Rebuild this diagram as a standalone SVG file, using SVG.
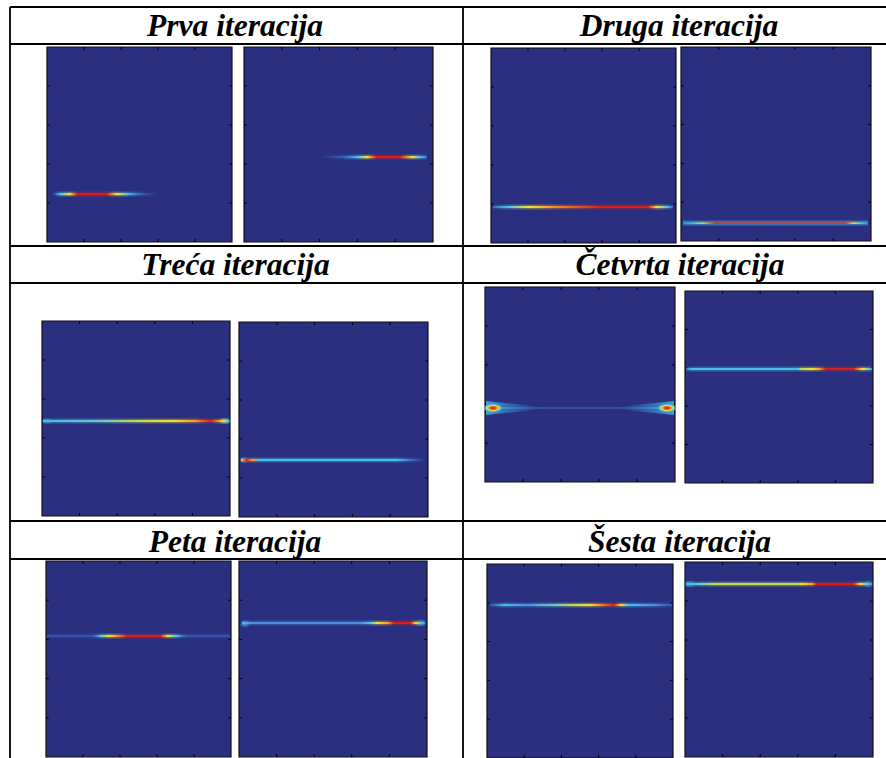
<svg xmlns="http://www.w3.org/2000/svg" xmlns:xlink="http://www.w3.org/1999/xlink" width="886" height="758" viewBox="0 0 886 758">
<style>
.tl{stroke:#000;stroke-width:1.8;fill:none}
.h{font-family:"Liberation Serif","Times New Roman",serif;font-weight:bold;font-style:italic;font-size:31.5px;text-anchor:middle;fill:#000}
.halo{opacity:0.35}
.st{filter:url(#bl)}
</style>
<defs>
<filter id="bl" x="-5%" y="-300%" width="110%" height="700%"><feGaussianBlur stdDeviation="0.6"/></filter>
<symbol id="ax" viewBox="0 0 100 100" preserveAspectRatio="none" overflow="visible">
<rect width="100" height="100" fill="#2b2f80" stroke="#111" stroke-width="1.2" vector-effect="non-scaling-stroke"/>
<path d="M20,0v1.5M40,0v1.5M60,0v1.5M80,0v1.5M20,100v-1.5M40,100v-1.5M60,100v-1.5M80,100v-1.5M0,20h1.5M0,40h1.5M0,60h1.5M0,80h1.5M100,20h-1.5M100,40h-1.5M100,60h-1.5M100,80h-1.5" stroke="#000" stroke-width="1" fill="none" vector-effect="non-scaling-stroke"/>
</symbol>
<linearGradient id="ga1"><stop offset="0" stop-color="#3a7fd0" stop-opacity="0"/><stop offset="0.076" stop-color="#45c0ec"/><stop offset="0.17" stop-color="#f0e52a"/><stop offset="0.24" stop-color="#d61e1e"/><stop offset="0.52" stop-color="#d61e1e"/><stop offset="0.62" stop-color="#f0e52a"/><stop offset="0.72" stop-color="#45c0ec"/><stop offset="0.85" stop-color="#3a7fd0" stop-opacity="0.5"/><stop offset="1" stop-color="#3a7fd0" stop-opacity="0"/></linearGradient>
<linearGradient id="ga2"><stop offset="0" stop-color="#3a7fd0" stop-opacity="0"/><stop offset="0.2" stop-color="#3a7fd0" stop-opacity="0.5"/><stop offset="0.34" stop-color="#45c0ec"/><stop offset="0.43" stop-color="#f0e52a"/><stop offset="0.52" stop-color="#d61e1e"/><stop offset="0.74" stop-color="#d61e1e"/><stop offset="0.86" stop-color="#f0e52a"/><stop offset="0.93" stop-color="#45c0ec"/><stop offset="1" stop-color="#45c0ec" stop-opacity="0.4"/></linearGradient>
<linearGradient id="gb1"><stop offset="0" stop-color="#45c0ec" stop-opacity="0.3"/><stop offset="0.08" stop-color="#45c0ec"/><stop offset="0.2" stop-color="#f0e52a"/><stop offset="0.32" stop-color="#f59a20"/><stop offset="0.6" stop-color="#d61e1e"/><stop offset="0.86" stop-color="#d61e1e"/><stop offset="0.91" stop-color="#f0e52a"/><stop offset="0.97" stop-color="#45c0ec"/><stop offset="1" stop-color="#45c0ec" stop-opacity="0.3"/></linearGradient>
<linearGradient id="gb2"><stop offset="0" stop-color="#45c0ec" stop-opacity="0.3"/><stop offset="0.05" stop-color="#45c0ec"/><stop offset="0.11" stop-color="#c0e050"/><stop offset="0.17" stop-color="#d63a2a"/><stop offset="0.88" stop-color="#d63a2a"/><stop offset="0.92" stop-color="#f0e52a"/><stop offset="0.97" stop-color="#45c0ec"/><stop offset="1" stop-color="#45c0ec" stop-opacity="0.3"/></linearGradient>
<linearGradient id="gc1"><stop offset="0" stop-color="#45c0ec"/><stop offset="0.05" stop-color="#45c0ec"/><stop offset="0.3" stop-color="#60ccc8"/><stop offset="0.5" stop-color="#b8de58"/><stop offset="0.7" stop-color="#f0e52a"/><stop offset="0.82" stop-color="#f59a20"/><stop offset="0.9" stop-color="#d61e1e"/><stop offset="0.97" stop-color="#f0e52a"/><stop offset="1" stop-color="#45c0ec"/></linearGradient>
<linearGradient id="gc2"><stop offset="0" stop-color="#f0e52a"/><stop offset="0.03" stop-color="#d61e1e"/><stop offset="0.06" stop-color="#f59a20"/><stop offset="0.1" stop-color="#45c0ec"/><stop offset="0.85" stop-color="#45c0ec"/><stop offset="0.95" stop-color="#3a7fd0" stop-opacity="0.5"/><stop offset="1" stop-color="#3a7fd0" stop-opacity="0"/></linearGradient>
<linearGradient id="gd1"><stop offset="0" stop-color="#45c0ec"/><stop offset="0.2" stop-color="#3a7fd0" stop-opacity="0.6"/><stop offset="0.8" stop-color="#3a7fd0" stop-opacity="0.6"/><stop offset="1" stop-color="#45c0ec"/></linearGradient>
<linearGradient id="gd2"><stop offset="0" stop-color="#45c0ec" stop-opacity="0.4"/><stop offset="0.03" stop-color="#45c0ec"/><stop offset="0.6" stop-color="#45c0ec"/><stop offset="0.62" stop-color="#b8de58"/><stop offset="0.68" stop-color="#f0e52a"/><stop offset="0.72" stop-color="#f59a20"/><stop offset="0.75" stop-color="#d61e1e"/><stop offset="0.9" stop-color="#d61e1e"/><stop offset="0.95" stop-color="#f0e52a"/><stop offset="0.99" stop-color="#45c0ec"/><stop offset="1" stop-color="#45c0ec" stop-opacity="0.4"/></linearGradient>
<linearGradient id="ge1"><stop offset="0" stop-color="#3a7fd0" stop-opacity="0.4"/><stop offset="0.25" stop-color="#3a7fd0" stop-opacity="0.4"/><stop offset="0.29" stop-color="#45c0ec"/><stop offset="0.34" stop-color="#f0e52a"/><stop offset="0.38" stop-color="#f59a20"/><stop offset="0.44" stop-color="#d61e1e"/><stop offset="0.62" stop-color="#d61e1e"/><stop offset="0.66" stop-color="#f0e52a"/><stop offset="0.71" stop-color="#45c0ec"/><stop offset="0.76" stop-color="#3a7fd0" stop-opacity="0.4"/><stop offset="1" stop-color="#3a7fd0" stop-opacity="0.4"/></linearGradient>
<linearGradient id="ge2"><stop offset="0" stop-color="#45c0ec"/><stop offset="0.05" stop-color="#4a90dc"/><stop offset="0.65" stop-color="#4a90dc"/><stop offset="0.7" stop-color="#45c0ec"/><stop offset="0.74" stop-color="#f0e52a"/><stop offset="0.8" stop-color="#f59a20"/><stop offset="0.83" stop-color="#d61e1e"/><stop offset="0.92" stop-color="#d61e1e"/><stop offset="0.95" stop-color="#f0e52a"/><stop offset="0.98" stop-color="#45c0ec"/><stop offset="1" stop-color="#45c0ec" stop-opacity="0.5"/></linearGradient>
<linearGradient id="gf1"><stop offset="0" stop-color="#3a7fd0" stop-opacity="0.4"/><stop offset="0.08" stop-color="#45c0ec"/><stop offset="0.2" stop-color="#4a90dc"/><stop offset="0.35" stop-color="#60ccc8"/><stop offset="0.45" stop-color="#b8de58"/><stop offset="0.55" stop-color="#f0e52a"/><stop offset="0.6" stop-color="#f59a20"/><stop offset="0.68" stop-color="#d61e1e"/><stop offset="0.72" stop-color="#f0e52a"/><stop offset="0.76" stop-color="#45c0ec"/><stop offset="0.9" stop-color="#4a90dc"/><stop offset="1" stop-color="#3a7fd0" stop-opacity="0.4"/></linearGradient>
<linearGradient id="gf2"><stop offset="0" stop-color="#45c0ec"/><stop offset="0.04" stop-color="#45c0ec"/><stop offset="0.1" stop-color="#70d8b0"/><stop offset="0.15" stop-color="#b8de58"/><stop offset="0.6" stop-color="#b8de58"/><stop offset="0.62" stop-color="#f0e52a"/><stop offset="0.68" stop-color="#f59a20"/><stop offset="0.7" stop-color="#d61e1e"/><stop offset="0.9" stop-color="#d61e1e"/><stop offset="0.94" stop-color="#f0e52a"/><stop offset="0.98" stop-color="#45c0ec"/><stop offset="1" stop-color="#45c0ec" stop-opacity="0.5"/></linearGradient>
<radialGradient id="flR"><stop offset="0" stop-color="#d61e1e"/><stop offset="0.3" stop-color="#e8501e"/><stop offset="0.55" stop-color="#f0e52a"/><stop offset="0.8" stop-color="#45c0ec" stop-opacity="0.8"/><stop offset="1" stop-color="#45c0ec" stop-opacity="0"/></radialGradient>
<radialGradient id="flY"><stop offset="0" stop-color="#f0e52a" stop-opacity="0.8"/><stop offset="0.5" stop-color="#45c0ec" stop-opacity="0.6"/><stop offset="1" stop-color="#45c0ec" stop-opacity="0"/></radialGradient>
<radialGradient id="flC"><stop offset="0" stop-color="#45c0ec" stop-opacity="0.7"/><stop offset="1" stop-color="#45c0ec" stop-opacity="0"/></radialGradient>
<linearGradient id="wL"><stop offset="0" stop-color="#45c0ec"/><stop offset="1" stop-color="#3a7fd0" stop-opacity="0"/></linearGradient>
<linearGradient id="wR" x1="1" x2="0"><stop offset="0" stop-color="#45c0ec"/><stop offset="1" stop-color="#3a7fd0" stop-opacity="0"/></linearGradient>
</defs>

<g id="table">
<path class="tl" d="M10,7H886M10,44H886M10,246H886M10,283H886M10,521H886M10,559H886M10,7V758M463,7V758"/>
</g>

<g id="cell-prva">
<text class="h" x="235" y="36">Prva iteracija</text>
<g id="plot-prva-1">
<use xlink:href="#ax" x="47" y="47" width="185" height="195"/>
<rect class="halo st" x="52" y="191.5" width="105" height="5" fill="url(#ga1)"/>
<rect class="st" x="52" y="193" width="105" height="2.2" fill="url(#ga1)"/>
</g>
<g id="plot-prva-2">
<use xlink:href="#ax" x="244" y="47" width="189" height="195"/>
<rect class="halo st" x="322" y="154.5" width="105" height="5" fill="url(#ga2)"/>
<rect class="st" x="322" y="156" width="105" height="2.2" fill="url(#ga2)"/>
</g>
</g>

<g id="cell-druga">
<text class="h" x="679" y="36">Druga iteracija</text>
<g id="plot-druga-1">
<use xlink:href="#ax" x="491" y="48" width="185" height="195"/>
<rect class="halo st" x="493" y="204.5" width="180" height="5" fill="url(#gb1)"/>
<rect class="st" x="493" y="206" width="180" height="2" fill="url(#gb1)"/>
</g>
<g id="plot-druga-2">
<use xlink:href="#ax" x="681" y="47" width="190" height="194"/>
<rect class="st" x="683" y="220.5" width="185" height="5" fill="#45c0ec" opacity="0.45"/>
<rect class="st" x="683" y="222.3" width="185" height="1.6" fill="url(#gb2)"/>
</g>
</g>

<g id="cell-treca">
<text class="h" x="235.5" y="275">Treća iteracija</text>
<g id="plot-treca-1">
<use xlink:href="#ax" x="42" y="321" width="188" height="195"/>
<ellipse cx="47" cy="421" rx="6" ry="3" fill="url(#flC)"/>
<ellipse cx="225" cy="421" rx="7" ry="3.5" fill="url(#flY)"/>
<rect class="halo st" x="43" y="418.5" width="186" height="5" fill="url(#gc1)"/>
<rect class="st" x="43" y="420" width="186" height="2" fill="url(#gc1)"/>
</g>
<g id="plot-treca-2">
<use xlink:href="#ax" x="239" y="322" width="189" height="195"/>
<ellipse cx="245" cy="460" rx="6" ry="3" fill="url(#flY)"/>
<rect class="halo st" x="241" y="457.5" width="184" height="5" fill="url(#gc2)"/>
<rect class="st" x="241" y="459" width="184" height="2" fill="url(#gc2)"/>
</g>
</g>

<g id="cell-cetvrta">
<text class="h" x="680" y="275">Četvrta iteracija</text>
<g id="plot-cetvrta-1">
<use xlink:href="#ax" x="485" y="287" width="190" height="195"/>
<rect class="st" x="486" y="407.3" width="188" height="1.4" fill="url(#gd1)"/>
<polygon class="st" points="486,401 486,415 545,409 545,407" fill="url(#wL)" opacity="0.8"/>
<polygon class="st" points="674,401 674,415 615,409 615,407" fill="url(#wR)" opacity="0.8"/>
<ellipse cx="493" cy="408" rx="10" ry="4.5" fill="url(#flR)"/>
<ellipse cx="667" cy="408" rx="10" ry="4.5" fill="url(#flR)"/>
</g>
<g id="plot-cetvrta-2">
<use xlink:href="#ax" x="685" y="291" width="188" height="192"/>
<rect class="halo st" x="686" y="366.5" width="186" height="5" fill="url(#gd2)"/>
<rect class="st" x="686" y="368" width="186" height="2" fill="url(#gd2)"/>
</g>
</g>

<g id="cell-peta">
<text class="h" x="235" y="552">Peta iteracija</text>
<g id="plot-peta-1">
<use xlink:href="#ax" x="46" y="561" width="185" height="196"/>
<rect class="halo st" x="47" y="633.5" width="183" height="5" fill="url(#ge1)"/>
<rect class="st" x="47" y="635" width="183" height="2" fill="url(#ge1)"/>
</g>
<g id="plot-peta-2">
<use xlink:href="#ax" x="239" y="561" width="188" height="196"/>
<ellipse cx="245" cy="624" rx="6" ry="4" fill="url(#flC)"/>
<ellipse cx="421" cy="623" rx="6" ry="4" fill="url(#flC)"/>
<rect class="halo st" x="242" y="620.5" width="183" height="5" fill="url(#ge2)"/>
<rect class="st" x="242" y="622" width="183" height="2" fill="url(#ge2)"/>
</g>
</g>

<g id="cell-sesta">
<text class="h" x="679.5" y="552">Šesta iteracija</text>
<g id="plot-sesta-1">
<use xlink:href="#ax" x="487" y="564" width="186" height="194"/>
<rect class="halo st" x="490" y="602.5" width="182" height="5" fill="url(#gf1)"/>
<rect class="st" x="490" y="604" width="182" height="2" fill="url(#gf1)"/>
</g>
<g id="plot-sesta-2">
<use xlink:href="#ax" x="685" y="562" width="188" height="195"/>
<ellipse cx="690" cy="584" rx="6" ry="4" fill="url(#flC)"/>
<ellipse cx="868" cy="584" rx="6" ry="4" fill="url(#flC)"/>
<rect class="halo st" x="686" y="581.5" width="186" height="5" fill="url(#gf2)"/>
<rect class="st" x="686" y="583" width="186" height="2" fill="url(#gf2)"/>
</g>
</g>
</svg>
